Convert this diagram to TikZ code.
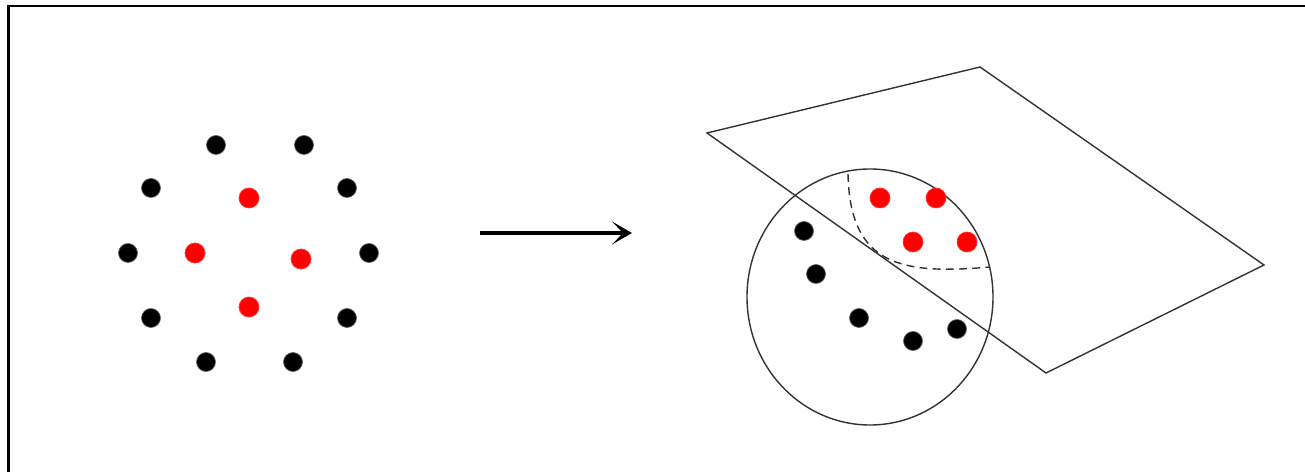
\documentclass[tikz,border=0pt]{standalone}
\usetikzlibrary{arrows.meta}

\begin{document}
\begin{tikzpicture}[
  x=0.02cm, y=-0.02cm,
  blackdot/.style={circle, fill=black, draw=black!60, line width=0.4pt,
                   inner sep=0pt, minimum size=0.38cm},
  reddot/.style={circle, fill=red, draw=red!80, line width=0.4pt,
                 inner sep=0pt, minimum size=0.40cm},
  outline/.style={draw=black!80, line width=0.8pt},
  bigarrow/.style={-{Stealth[length=4mm, width=4.6mm, inset=2.2mm]}, line width=2pt}
]
\useasboundingbox (0,0) rectangle (1305,472);

% frame
\draw[line width=1.6pt] (8.5,472) -- (8.5,6) -- (1305,6);

% left: the two rings of points
\node[blackdot] (b1) at (216,145) {};
\node[blackdot] (b2) at (304,145) {};
\node[blackdot] (b3) at (151,188) {};
\node[blackdot] (b4) at (347,188) {};
\node[blackdot] (b5) at (128,253) {};
\node[blackdot] (b6) at (369,253) {};
\node[blackdot] (b7) at (151,318) {};
\node[blackdot] (b8) at (347,318) {};
\node[blackdot] (b9) at (206,362) {};
\node[blackdot] (b10) at (293,362) {};

\node[reddot] (r1) at (249,198) {};
\node[reddot] (r2) at (195,253) {};
\node[reddot] (r3) at (301,259) {};
\node[reddot] (r4) at (249,307) {};

% mapping arrow
\coordinate (arrowtail) at (480,233);
\coordinate (arrowtip) at (632,233);
\draw[bigarrow] (arrowtail) -- (arrowtip);

% right: separating plane and sphere
\coordinate (pleft) at (707,133);
\coordinate (ptop) at (980,67);
\coordinate (pright) at (1264,265);
\coordinate (pbottom) at (1046,373);
\draw[outline] (pleft) -- (ptop) -- (pright) -- (pbottom) -- cycle;

\draw[outline] (870,297) ellipse [x radius=123, y radius=128];

\draw[black!80, line width=0.8pt, dash pattern=on 4.5pt off 3pt]
  (848,174) .. controls (850,265) and (900,275) .. (990,267);

\node[reddot] (s1) at (880,198) {};
\node[reddot] (s2) at (936,198) {};
\node[reddot] (s3) at (913,242) {};
\node[reddot] (s4) at (967,242) {};

\node[blackdot] (t1) at (804,231) {};
\node[blackdot] (t2) at (816,274) {};
\node[blackdot] (t3) at (859,318) {};
\node[blackdot] (t4) at (913,341) {};
\node[blackdot] (t5) at (957,329) {};
\end{tikzpicture}
\end{document}
